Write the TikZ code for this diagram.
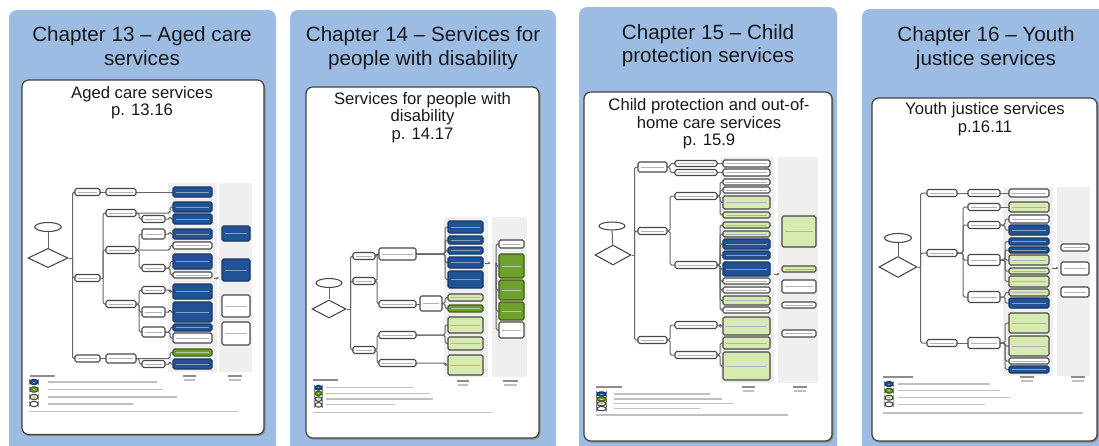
\documentclass[tikz,border=0pt]{standalone}
\usepackage{fontspec}
\setmainfont{Liberation Sans}
\usetikzlibrary{shapes.geometric,arrows.meta}
\pgfdeclarelayer{bg}
\pgfdeclarelayer{mid}
\pgfsetlayers{bg,mid,main}
\definecolor{panelblue}{RGB}{157,188,228}
\definecolor{dblue}{RGB}{34,82,150}
\definecolor{dgreen}{RGB}{112,160,44}
\definecolor{lgreen}{RGB}{214,234,178}
\definecolor{colgrey}{RGB}{239,239,239}
\definecolor{bdr}{RGB}{72,72,72}
\definecolor{txt}{RGB}{25,25,25}
\tikzset{
  panel/.style={fill=panelblue, draw=none, rounded corners=6pt},
  innerbox/.style={fill=white, draw=black!75, line width=0.9pt, rounded corners=5pt},
  shadowbox/.style={fill=black!45, rounded corners=5pt},
  ttl/.style={font=\fontsize{15.5}{18}\selectfont, text=txt, anchor=base, inner sep=0pt},
  subttl/.style={font=\fontsize{12.5}{13.5}\selectfont, text=txt, anchor=base, inner sep=0pt},
  tb/.style={draw=bdr, line width=0.8pt, rounded corners=1.2pt, fill=white, inner sep=0pt, outer sep=0pt,
    path picture={\draw[black!30, line width=0.5pt] ([xshift=2pt]path picture bounding box.west) -- ([xshift=-2pt]path picture bounding box.east);}},
  bl/.style={fill=dblue, draw=dblue!65!black,
    path picture={\draw[dblue!55!white, line width=0.5pt] ([xshift=2pt]path picture bounding box.west) -- ([xshift=-2pt]path picture bounding box.east);}},
  gr/.style={fill=dgreen, draw=dgreen!55!black,
    path picture={\draw[dgreen!50!white, line width=0.5pt] ([xshift=2pt]path picture bounding box.west) -- ([xshift=-2pt]path picture bounding box.east);}},
  lg/.style={fill=lgreen, draw=bdr,
    path picture={\draw[black!30, line width=0.5pt] ([xshift=2pt]path picture bounding box.west) -- ([xshift=-2pt]path picture bounding box.east);}},
  leg/.style={rounded corners=2pt, path picture={}},
  ln/.style={draw=black!60, line width=0.75pt, rounded corners=1.2pt},
  col/.style={fill=colgrey, draw=none},
  obj/.style={ellipse, draw=bdr, line width=0.8pt, fill=white, inner sep=0pt},
  dia/.style={diamond, draw=bdr, line width=0.8pt, fill=white, inner sep=0pt, aspect=2},
  faint/.style={draw=black!25, line width=1.1pt},
  faintd/.style={draw=black!45, line width=1pt},
  arr/.style={ln, -{Stealth[length=2pt,width=2.2pt]}},
}
\newcommand\mybx[6][]{\node[tb,#1,minimum width={(#5-#3)*0.75pt},minimum height={(#6-#4)*0.75pt}] (#2) at ({(#3+#5)/2},{(#4+#6)/2}) {};}
\newcommand\cnx[3]{\draw[ln] (#1.east) -- ++(#3,0) |- (#2.west);}
\newcommand\stx[2]{\draw[ln] (#1.east) -- (#2.west |- #1.east);}
\newcommand\fb[4][faint]{\draw[#1] (#2,#4) -- (#3,#4);}

\begin{document}
\begin{tikzpicture}[x=0.75pt,y=-0.75pt]
\useasboundingbox (0,0) rectangle (1099,446);

%================ backgrounds =================
\begin{pgfonlayer}{bg}
\fill[panel] (9,10) rectangle (276,470);
\fill[shadowbox] (23,81.5) rectangle (265.5,436);
\draw[innerbox] (22,80) rectangle (264,434.5);
\fill[panel] (290,10) rectangle (556,470);
\fill[shadowbox] (307,88.5) rectangle (540.5,439.5);
\draw[innerbox] (306,87) rectangle (539,438);
\fill[panel] (579,7) rectangle (837,470);
\fill[shadowbox] (585,93.5) rectangle (833.5,442.5);
\draw[innerbox] (584,92) rectangle (832,441);
\fill[panel] (862,9) rectangle (1120,470);
\fill[shadowbox] (873,99.5) rectangle (1098.5,442.5);
\draw[innerbox] (872,98) rectangle (1097,441);
% thumbnail columns
\fill[col] (168,183) rectangle (217,372);
\fill[col] (219,183) rectangle (252,372);
\fill[col] (444,217) rectangle (488,377);
\fill[col] (492,217) rectangle (527,377);
\fill[col] (721,157) rectangle (774,383);
\fill[col] (778,157) rectangle (818,383);
\fill[col] (1003,187) rectangle (1053,376);
\fill[col] (1057,187) rectangle (1090,376);
\end{pgfonlayer}

%================ titles =================
\node[ttl] (t1a) at (142,41.5) {Chapter 13 – Aged care};
\node[ttl] (t1b) at (142,65.5) {services};
\node[subttl] (s1a) at (142,98.5) {Aged care services};
\node[subttl] (s1b) at (142,115.5) {p. 13.16};

\node[ttl] (t2a) at (423,41.5) {Chapter 14 – Services for};
\node[ttl] (t2b) at (423,65.5) {people with disability};
\node[subttl] (s2a) at (422.5,104) {Services for people with};
\node[subttl] (s2b) at (422.5,121.5) {disability};
\node[subttl] (s2c) at (422.5,139) {p. 14.17};

\node[ttl] (t3a) at (708,39.5) {Chapter 15 – Child};
\node[ttl] (t3b) at (708,62.5) {protection services};
\node[subttl] (s3a) at (709,110.5) {Child protection and out-of-};
\node[subttl] (s3b) at (709,128) {home care services};
\node[subttl] (s3c) at (709,145.5) {p. 15.9};

\node[ttl] (t4a) at (986,41.5) {Chapter 16 – Youth};
\node[ttl] (t4b) at (986,65) {justice services};
\node[subttl] (s4a) at (985,114.5) {Youth justice services};
\node[subttl] (s4b) at (985,132.5) {p.16.11};

%================ Panel 1 thumbnail =================
\node[obj,minimum width=20pt,minimum height=6.75pt] (p1obj) at (48,227) {};
\node[dia,minimum width=30pt,minimum height=14.5pt] (p1dia) at (48,258) {};
\mybx{p1eq}{75}{188.5}{100}{195.5}
\mybx{p1ef}{75}{274.5}{100}{281.5}
\mybx{p1efc}{75}{355}{100}{362}
\mybx{p1eqA}{106}{188.5}{136}{195.5}
\mybx{p1efA}{106}{209.5}{136}{216.5}
\mybx{p1efP}{106}{246.5}{136}{253.5}
\mybx{p1efQ}{106}{300.5}{136}{307.5}
\mybx{p1efcC}{106}{354}{136}{363}
\mybx{p1efA1}{142}{215.5}{165}{222.5}
\mybx{p1efP1}{142}{229}{165}{239}
\mybx{p1efP2}{142}{264.5}{165}{271.5}
\mybx{p1efQ1}{142}{286.5}{165}{293.5}
\mybx{p1efQ2}{142}{307}{165}{317}
\mybx{p1efQ3}{142}{327}{165}{337}
\mybx{p1efcO}{142}{360.5}{165}{367.5}
\mybx[bl]{p1o1}{173}{187}{212}{197}
\mybx[bl]{p1o2}{173}{202}{212}{212}
\mybx[bl]{p1o3}{173}{214}{212}{224}
\mybx[bl]{p1o4}{173}{229}{212}{239}
\mybx{p1o5}{173}{242}{212}{249}
\mybx[bl]{p1o6}{173}{254}{212}{269}
\mybx{p1o7}{173}{272}{212}{278}
\mybx[bl]{p1o8}{173}{284}{212}{299}
\mybx[bl]{p1o9}{173}{302}{212}{322}
\mybx[bl]{p1o10}{173}{324}{212}{331}
\mybx{p1o11}{173}{333}{212}{343}
\mybx[gr]{p1o12}{173}{349}{212}{356}
\mybx[bl]{p1o13}{173}{359}{212}{369}
\mybx[bl]{p1c1}{222}{226}{250}{241}
\mybx[bl]{p1c2}{222}{259}{250}{281}
\mybx{p1c3}{222}{295}{250}{317}
\mybx{p1c4}{222}{322}{250}{345}
\coordinate (p1a) at (213.5,278);
\coordinate (p1b) at (219,278);
% legend
\mybx[leg,bl]{p1k1}{30}{379.5}{38}{384.5}
\mybx[leg,gr]{p1k2}{30}{387}{38}{392}
\mybx[leg,lg]{p1k3}{30}{394.5}{38}{399.5}
\mybx[leg]{p1k4}{30}{401.5}{38}{406.5}
\begin{pgfonlayer}{mid}
\draw[ln] (p1obj) -- (p1dia);
\draw[ln] (p1dia.east) -- ++(4,0) coordinate (p1t0);
\draw[ln] (p1t0) |- (p1eq.west);
\draw[ln] (p1t0) |- (p1ef.west);
\draw[ln] (p1t0) |- (p1efc.west);
\stx{p1eq}{p1eqA}
\draw[ln] (p1ef.east) -- ++(3,0) coordinate (p1t1);
\draw[ln] (p1t1) |- (p1efA.west);
\draw[ln] (p1t1) |- (p1efP.west);
\draw[ln] (p1t1) |- (p1efQ.west);
\stx{p1efc}{p1efcC}
\cnx{p1efA}{p1efA1}{3}
\cnx{p1efP}{p1efP1}{3}
\cnx{p1efP}{p1efP2}{3}
\cnx{p1efQ}{p1efQ1}{3}
\cnx{p1efQ}{p1efQ2}{3}
\cnx{p1efQ}{p1efQ3}{3}
\cnx{p1efcC}{p1efcO}{3}
\stx{p1eqA}{p1o1}
\cnx{p1efA}{p1o2}{34}
\cnx{p1efA1}{p1o3}{5}
\cnx{p1efP1}{p1o4}{5}
\cnx{p1efP}{p1o5}{34}
\cnx{p1efP2}{p1o6}{5}
\cnx{p1efP2}{p1o7}{5}
\cnx{p1efQ1}{p1o8}{5}
\cnx{p1efQ2}{p1o9}{5}
\cnx{p1efQ3}{p1o10}{5}
\cnx{p1efQ3}{p1o11}{5}
\cnx{p1efcC}{p1o12}{34}
\cnx{p1efcO}{p1o13}{5}
\draw[arr] (p1a) -- (p1b);
\end{pgfonlayer}
\fb[faintd]{30}{55}{376}
\fb{48}{157}{382}
\fb{48}{163}{389.5}
\fb{48}{177}{397}
\fb{48}{133}{404}
\fb{29}{238}{411.5}
\fb[faintd]{183}{196}{376}
\fb{184}{195}{380}
\fb[faintd]{228}{242}{376}
\fb{229}{241}{380}

%================ Panel 2 thumbnail =================
\node[obj,minimum width=19.5pt,minimum height=6.75pt] (p2obj) at (329,283) {};
\node[dia,minimum width=25.5pt,minimum height=13.5pt] (p2dia) at (329,309) {};
\mybx{p2eq}{353}{252.5}{375}{259.5}
\mybx{p2ef}{353}{277.5}{375}{284.5}
\mybx{p2efc}{353}{346.5}{375}{353.5}
\mybx{p2eqA}{379}{248}{416}{260}
\mybx{p2efQ}{379}{300.5}{416}{307.5}
\mybx{p2efcC}{379}{331.5}{416}{338.5}
\mybx{p2efcA}{379}{359.5}{416}{366.5}
\mybx{p2efQ1}{420}{296}{442}{311}
\mybx[bl]{p2o1}{448}{221}{483}{233}
\mybx[bl]{p2o2}{448}{236}{483}{244}
\mybx[bl]{p2o3}{448}{247}{483}{254}
\mybx[bl]{p2o4}{448}{257}{483}{268}
\mybx[bl]{p2o5}{448}{271}{483}{288}
\mybx[lg]{p2o6}{448}{294}{483}{301}
\mybx[gr]{p2o7}{448}{305}{483}{312}
\mybx[lg]{p2o8}{448}{317}{483}{333}
\mybx[lg]{p2o9}{448}{337}{483}{350}
\mybx[lg]{p2o10}{448}{355}{483}{375}
\mybx{p2c1}{499}{240}{524}{248}
\mybx[gr]{p2c2}{499}{254}{524}{278}
\mybx[gr]{p2c3}{499}{280}{524}{300}
\mybx[gr]{p2c4}{499}{302}{524}{320}
\mybx{p2c5}{499}{322}{524}{338}
\coordinate (p2a) at (484.5,263);
\coordinate (p2b) at (490.5,263);
\coordinate (p2br) at (496,263);
\mybx[leg,bl]{p2k1}{315}{385.5}{322}{390}
\mybx[leg,gr]{p2k2}{315}{391.3}{322}{395.5}
\mybx[leg,lg]{p2k3}{315}{397}{322}{401.3}
\mybx[leg]{p2k4}{315}{402.7}{322}{407}
\begin{pgfonlayer}{mid}
\draw[ln] (p2obj) -- (p2dia);
\draw[ln] (p2dia.east) -- ++(4,0) coordinate (p2t0);
\draw[ln] (p2t0) |- (p2eq.west);
\draw[ln] (p2t0) |- (p2ef.west);
\draw[ln] (p2t0) |- (p2efc.west);
\cnx{p2eq}{p2eqA}{2}
\cnx{p2ef}{p2eqA}{2}
\cnx{p2ef}{p2efQ}{2}
\cnx{p2efc}{p2efcC}{2}
\cnx{p2efc}{p2efcA}{2}
\stx{p2efQ}{p2efQ1}
\cnx{p2eqA}{p2o1}{29}
\cnx{p2eqA}{p2o2}{29}
\cnx{p2eqA}{p2o3}{29}
\cnx{p2eqA}{p2o4}{29}
\cnx{p2eqA}{p2o5}{29}
\cnx{p2efQ1}{p2o6}{3}
\cnx{p2efQ1}{p2o7}{3}
\cnx{p2efcC}{p2o8}{29}
\cnx{p2efcC}{p2o9}{29}
\cnx{p2efcA}{p2o10}{29}
\draw[arr] (p2a) -- (p2b);
\draw[ln] (p2br) |- (p2c1.west);
\draw[ln] (p2br) |- (p2c2.west);
\draw[ln] (p2br) |- (p2c3.west);
\draw[ln] (p2br) |- (p2c4.west);
\draw[ln] (p2br) |- (p2c5.west);
\end{pgfonlayer}
\fb[faintd]{313}{338}{380}
\fb{326}{413}{387.7}
\fb{326}{430}{393.3}
\fb{326}{433}{399}
\fb{326}{395}{404.7}
\fb{313}{492}{412.5}
\fb[faintd]{457}{469}{381}
\fb{458}{468}{385}
\fb[faintd]{503}{518}{381}
\fb{504}{517}{385}

%================ Panel 3 thumbnail =================
\node[obj,minimum width=19.5pt,minimum height=6pt] (p3obj) at (612,226) {};
\node[dia,minimum width=27pt,minimum height=15pt] (p3dia) at (613,255) {};
\mybx{p3eq}{638}{162}{667}{172}
\mybx{p3ef}{638}{227.5}{667}{234.5}
\mybx{p3efc}{638}{336.5}{667}{343.5}
\mybx{p3eqC}{675}{160.5}{717}{166.5}
\mybx{p3eqO}{675}{169.5}{717}{175.5}
\mybx{p3efC}{675}{192.5}{717}{199.5}
\mybx{p3efO}{675}{261.5}{717}{268.5}
\mybx{p3efcC}{675}{321.5}{717}{328.5}
\mybx{p3efcO}{675}{351.5}{717}{358.5}
\mybx{p3o1}{723}{160}{770}{167}
\mybx{p3o2}{723}{169}{770}{176}
\mybx{p3o3}{723}{179}{770}{185}
\mybx{p3o4}{723}{187}{770}{193}
\mybx[lg]{p3o5}{723}{196}{770}{209}
\mybx[lg]{p3o6}{723}{212}{770}{218}
\mybx[lg]{p3o7}{723}{222}{770}{228}
\mybx[lg]{p3o8}{723}{231}{770}{237}
\mybx[bl]{p3o9}{723}{239}{770}{249}
\mybx[bl]{p3o10}{723}{251}{770}{259}
\mybx[bl]{p3o11}{723}{262}{770}{276}
\mybx{p3o12}{723}{278}{770}{284}
\mybx{p3o13}{723}{287}{770}{293}
\mybx[lg]{p3o14}{723}{296}{770}{305}
\mybx{p3o15}{723}{307}{770}{313}
\mybx[lg]{p3o16}{723}{317}{770}{335}
\mybx[lg]{p3o17}{723}{337}{770}{349}
\mybx[lg]{p3o18}{723}{352}{770}{380}
\mybx[lg]{p3c1}{782}{216}{816}{247}
\mybx[lg]{p3c2}{782}{266}{816}{272}
\mybx{p3c3}{782}{280}{816}{293}
\mybx{p3c4}{782}{302}{816}{308}
\mybx{p3c5}{782}{330}{816}{337}
\coordinate (p3a) at (774,274);
\coordinate (p3b) at (779.5,274);
\mybx[leg,bl]{p3k1}{597}{392}{606}{396}
\mybx[leg,gr]{p3k2}{597}{397}{606}{401}
\mybx[leg,lg]{p3k3}{597}{401.7}{606}{405.7}
\mybx[leg]{p3k4}{597}{406.7}{606}{410.7}
\begin{pgfonlayer}{mid}
\draw[ln] (p3obj) -- (p3dia);
\draw[ln] (p3dia.east) -- ++(3,0) coordinate (p3t0);
\draw[ln] (p3t0) |- (p3eq.west);
\draw[ln] (p3t0) |- (p3ef.west);
\draw[ln] (p3t0) |- (p3efc.west);
\cnx{p3eq}{p3eqC}{3}
\cnx{p3eq}{p3eqO}{3}
\cnx{p3ef}{p3efC}{3}
\cnx{p3ef}{p3efO}{3}
\cnx{p3efc}{p3efcC}{3}
\cnx{p3efc}{p3efcO}{3}
\stx{p3eqC}{p3o1}
\stx{p3eqO}{p3o2}
\cnx{p3efC}{p3o3}{3}
\cnx{p3efC}{p3o4}{3}
\cnx{p3efC}{p3o5}{3}
\cnx{p3efC}{p3o6}{3}
\cnx{p3efO}{p3o7}{3}
\cnx{p3efO}{p3o8}{3}
\cnx{p3efO}{p3o9}{3}
\cnx{p3efO}{p3o10}{3}
\cnx{p3efO}{p3o11}{3}
\cnx{p3efO}{p3o12}{3}
\cnx{p3efO}{p3o13}{3}
\cnx{p3efO}{p3o14}{3}
\cnx{p3efO}{p3o15}{3}
\cnx{p3efcC}{p3o16}{3}
\cnx{p3efcO}{p3o17}{3}
\cnx{p3efcO}{p3o18}{3}
\draw[arr] (p3a) -- (p3b);
\end{pgfonlayer}
\fb[faintd]{596}{622}{387}
\fb{614}{710}{394}
\fb{614}{722}{399}
\fb{614}{733}{403.7}
\fb{614}{700}{408.7}
\fb{596}{788}{415}
\fb[faintd]{742}{755}{387}
\fb{743}{754}{391}
\fb[faintd]{793}{807}{387}
\fb{794}{806}{391}

%================ Panel 4 thumbnail =================
\node[obj,minimum width=20.25pt,minimum height=6.75pt] (p4obj) at (898,238) {};
\node[dia,minimum width=28.5pt,minimum height=15.75pt] (p4dia) at (898,267) {};
\mybx{p4eq}{927}{189.5}{957}{196.5}
\mybx{p4ef}{927}{249.5}{957}{256.5}
\mybx{p4efc}{927}{339.5}{957}{346.5}
\mybx{p4eqA}{968}{189.5}{1000}{196.5}
\mybx{p4efD}{968}{203.5}{1000}{210.5}
\mybx{p4efR}{968}{221.5}{1000}{228.5}
\mybx{p4efS}{968}{254.5}{1000}{265.5}
\mybx{p4efT}{968}{291.5}{1000}{302.5}
\mybx{p4efcC}{968}{337.5}{1000}{348.5}
\mybx{p4o1}{1009}{189}{1049}{197}
\mybx[lg]{p4o2}{1009}{202}{1049}{212}
\mybx{p4o3}{1009}{215}{1049}{223}
\mybx[bl]{p4o4}{1009}{225}{1049}{235}
\mybx[bl]{p4o5}{1009}{238}{1049}{245}
\mybx[bl]{p4o6}{1009}{247}{1049}{253}
\mybx[lg]{p4o7}{1009}{255}{1049}{265}
\mybx[lg]{p4o8}{1009}{268}{1049}{274}
\mybx[lg]{p4o9}{1009}{276}{1049}{287}
\mybx[lg]{p4o10}{1009}{289}{1049}{296}
\mybx[bl]{p4o11}{1009}{298}{1049}{308}
\mybx[lg]{p4o12}{1009}{313}{1049}{333}
\mybx[lg]{p4o13}{1009}{336}{1049}{356}
\mybx{p4o14}{1009}{358}{1049}{364}
\mybx[bl]{p4o15}{1009}{366}{1049}{373}
\mybx{p4c1}{1061}{244}{1089}{251}
\mybx{p4c2}{1061}{262}{1089}{275}
\mybx{p4c3}{1061}{287}{1089}{297}
\coordinate (p4a) at (1052,268);
\coordinate (p4b) at (1058.5,268);
\mybx[leg,bl]{p4k1}{885}{381.7}{893}{386.3}
\mybx[leg,gr]{p4k2}{885}{388.4}{893}{393}
\mybx[leg,lg]{p4k3}{885}{395.4}{893}{400}
\mybx[leg]{p4k4}{885}{402}{893}{406.6}
\begin{pgfonlayer}{mid}
\draw[ln] (p4obj) -- (p4dia);
\draw[ln] (p4dia.east) -- ++(3,0) coordinate (p4t0);
\draw[ln] (p4t0) |- (p4eq.west);
\draw[ln] (p4t0) |- (p4ef.west);
\draw[ln] (p4t0) |- (p4efc.west);
\stx{p4eq}{p4eqA}
\cnx{p4ef}{p4efD}{6}
\cnx{p4ef}{p4efR}{6}
\cnx{p4ef}{p4efS}{6}
\cnx{p4ef}{p4efT}{6}
\stx{p4efc}{p4efcC}
\stx{p4eqA}{p4o1}
\stx{p4efD}{p4o2}
\cnx{p4efR}{p4o3}{5}
\cnx{p4efR}{p4o4}{5}
\cnx{p4efS}{p4o5}{5}
\cnx{p4efS}{p4o6}{5}
\cnx{p4efS}{p4o7}{5}
\cnx{p4efS}{p4o8}{5}
\cnx{p4efS}{p4o9}{5}
\cnx{p4efT}{p4o10}{5}
\cnx{p4efT}{p4o11}{5}
\cnx{p4efcC}{p4o12}{5}
\cnx{p4efcC}{p4o13}{5}
\cnx{p4efcC}{p4o14}{5}
\cnx{p4efcC}{p4o15}{5}
\draw[arr] (p4a) -- (p4b);
\end{pgfonlayer}
\fb[faintd]{883}{913}{377}
\fb{898}{990}{384}
\fb{898}{1000}{390.7}
\fb{898}{1010}{397.7}
\fb{898}{985}{404.3}
\fb{883}{1083}{413}
\fb[faintd]{1020}{1034}{377}
\fb{1021}{1033}{381}
\fb[faintd]{1071}{1085}{377}
\fb{1072}{1084}{381}
\end{tikzpicture}
\end{document}
